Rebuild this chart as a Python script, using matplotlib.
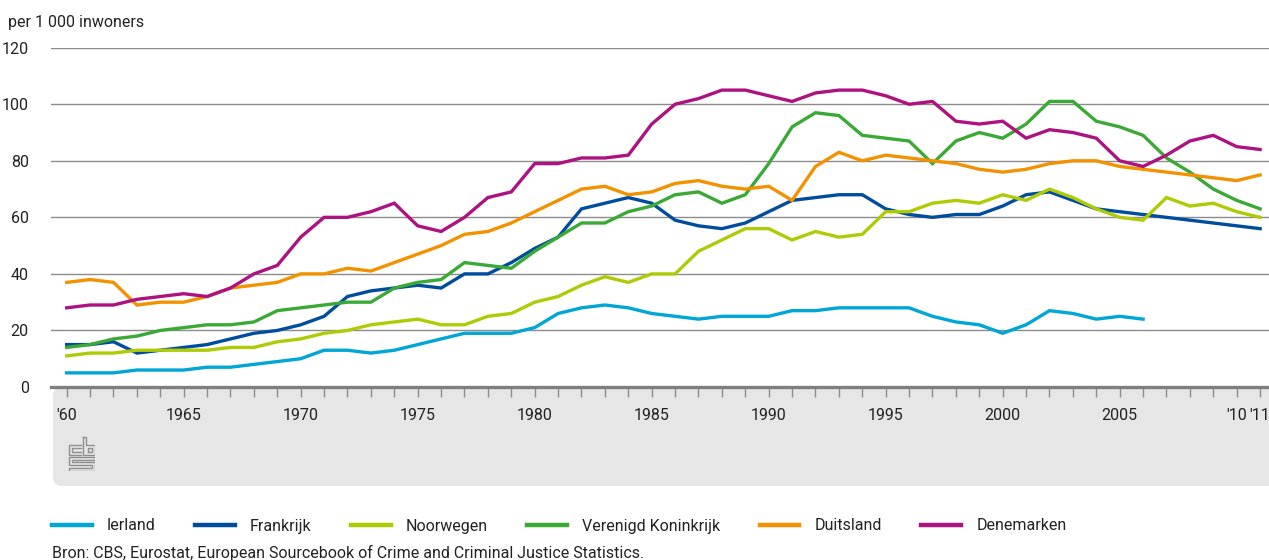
import numpy as np
import matplotlib
matplotlib.use("Agg")
import matplotlib.pyplot as plt
from matplotlib.patches import FancyBboxPatch
from matplotlib.transforms import IdentityTransform

plt.rcParams['font.family'] = ['Roboto', 'DejaVu Sans']

# crime figures per 1 000 inhabitants, 1960-2011
years = np.arange(1960, 2012)

ierland = [5, 5, 5, 6, 6, 6, 7, 7, 8, 9, 10, 13, 13, 12, 13, 15,
           17, 19, 19, 19, 21, 26, 28, 29, 28, 26, 25, 24, 25, 25, 25, 27, 27, 28,
           28, 28, 28, 25, 23, 22, 19, 22, 27, 26, 24, 25, 24]
frankrijk = [15, 15, 16, 12, 13, 14, 15, 17, 19, 20, 22, 25, 32, 34, 35, 36,
             35, 40, 40, 44, 49, 53, 63, 65, 67, 65, 59, 57, 56, 58, 62, 66, 67, 68,
             68, 63, 61, 60, 61, 61, 64, 68, 69, 66, 63, 62, 61, 60, 59, 58, 57, 56]
noorwegen = [11, 12, 12, 13, 13, 13, 13, 14, 14, 16, 17, 19, 20, 22, 23, 24,
             22, 22, 25, 26, 30, 32, 36, 39, 37, 40, 40, 48, 52, 56, 56, 52, 55, 53,
             54, 62, 62, 65, 66, 65, 68, 66, 70, 67, 63, 60, 59, 67, 64, 65, 62, 60]
vk = [14, 15, 17, 18, 20, 21, 22, 22, 23, 27, 28, 29, 30, 30, 35, 37,
      38, 44, 43, 42, 48, 53, 58, 58, 62, 64, 68, 69, 65, 68, 79, 92, 97, 96,
      89, 88, 87, 79, 87, 90, 88, 93, 101, 101, 94, 92, 89, 81, 76, 70, 66, 63]
duitsland = [37, 38, 37, 29, 30, 30, 32, 35, 36, 37, 40, 40, 42, 41, 44, 47,
             50, 54, 55, 58, 62, 66, 70, 71, 68, 69, 72, 73, 71, 70, 71, 66, 78, 83,
             80, 82, 81, 80, 79, 77, 76, 77, 79, 80, 80, 78, 77, 76, 75, 74, 73, 75]
denemarken = [28, 29, 29, 31, 32, 33, 32, 35, 40, 43, 53, 60, 60, 62, 65, 57,
              55, 60, 67, 69, 79, 79, 81, 81, 82, 93, 100, 102, 105, 105, 103, 101, 104, 105,
              105, 103, 100, 101, 94, 93, 94, 88, 91, 90, 88, 80, 78, 82, 87, 89, 85, 84]

series = [
    ("Ierland", ierland, "#00a6d6"),
    ("Frankrijk", frankrijk, "#004d9e"),
    ("Noorwegen", noorwegen, "#afcb05"),
    ("Verenigd Koninkrijk", vk, "#3aa935"),
    ("Duitsland", duitsland, "#f39200"),
    ("Denemarken", denemarken, "#ae1280"),
]

xlabels = {1960: "'60", 1965: "1965", 1970: "1970", 1975: "1975", 1980: "1980",
           1985: "1985", 1990: "1990", 1995: "1995", 2000: "2000", 2005: "2005",
           2010: "'10", 2011: "'11"}

W, H = 1269, 560
fig = plt.figure(figsize=(W / 100, H / 100), dpi=100)

# gray band under the x axis
band = FancyBboxPatch((53, H - 486), W - 53 + 30, 486 - 387,
                      boxstyle="round,pad=0,rounding_size=9",
                      transform=IdentityTransform(), facecolor="#e6e6e6",
                      edgecolor="none", zorder=-5)
fig.patches.append(band)

ax = fig.add_axes([51 / W, 1 - 387 / H, (W - 51) / W, (387 - 47.7) / H])
ax.set_facecolor("none")

for name, vals, col in series:
    ax.plot(years[:len(vals)], vals, color=col, lw=2.4, label=name,
            solid_joinstyle="miter", clip_on=False)

ax.set_ylim(0, 120)
ax.set_xlim(1960 - 15.7 / 23.4, 2011 + 8.9 / 23.4)
ax.set_yticks(range(0, 121, 20))
ax.yaxis.grid(True, color="#8c8c8c", lw=1.0)
ax.set_axisbelow(True)
ax.tick_params(axis="y", length=0, pad=16, labelsize=11.5, labelcolor="#222222")

ax.set_xticks(years)
ax.set_xticklabels([xlabels.get(y, "") for y in years])
ax.tick_params(axis="x", direction="out", length=7, width=1, color="#8c8c8c",
               pad=8, labelsize=11.5, labelcolor="#222222")

for s in ["top", "right", "left"]:
    ax.spines[s].set_visible(False)
ax.spines["bottom"].set_color("#7f7f7f")
ax.spines["bottom"].set_linewidth(2.4)
ax.spines["bottom"].set_zorder(3)

fig.text(8 / W, 1 - 23 / H, "per 1 000 inwoners", fontsize=11.5,
         color="#222222", va="center", ha="left")

# cbs logo, simplified
lg = fig.add_axes([68 / W, 1 - 471 / H, 27 / W, 35 / H])
lg.set_xlim(-0.5, 26.5)
lg.set_ylim(-0.5, 34.5)
lg.axis("off")
logo_col = "#8f8f8f"
paths = [
    # c
    [(12, 26), (0, 26), (0, 16), (12, 16)],
    [(12, 23), (3, 23), (3, 19), (12, 19)],
    # b
    [(14, 34), (14, 16), (26, 16), (26, 26), (17, 26), (17, 34), (14, 34)],
    [(19, 19), (23, 19), (23, 23), (19, 23), (19, 19)],
    # s
    [(26, 14), (0, 14), (0, 6), (23, 6), (23, 3), (0, 3), (0, 0), (26, 0),
     (26, 9), (3, 9), (3, 11), (26, 11), (26, 14)],
]
for p in paths:
    xs, ys = zip(*p)
    lg.plot(xs, ys, color=logo_col, lw=1.0, solid_joinstyle="miter")

leg = fig.legend(loc="center left", bbox_to_anchor=(52 / W, 1 - 526 / H),
                 ncol=6, frameon=False, fontsize=11.5, handlelength=2.5,
                 handletextpad=0.95, columnspacing=2.45, borderpad=0,
                 borderaxespad=0)
for h in leg.get_lines():
    h.set_linewidth(3.2)
for t in leg.get_texts():
    t.set_color("#222222")

fig.text(52 / W, 1 - 553 / H,
         "Bron: CBS, Eurostat, European Sourcebook of Crime and Criminal Justice Statistics.",
         fontsize=11.5, color="#222222", va="center", ha="left")

fig.savefig("out.png", dpi=100)
